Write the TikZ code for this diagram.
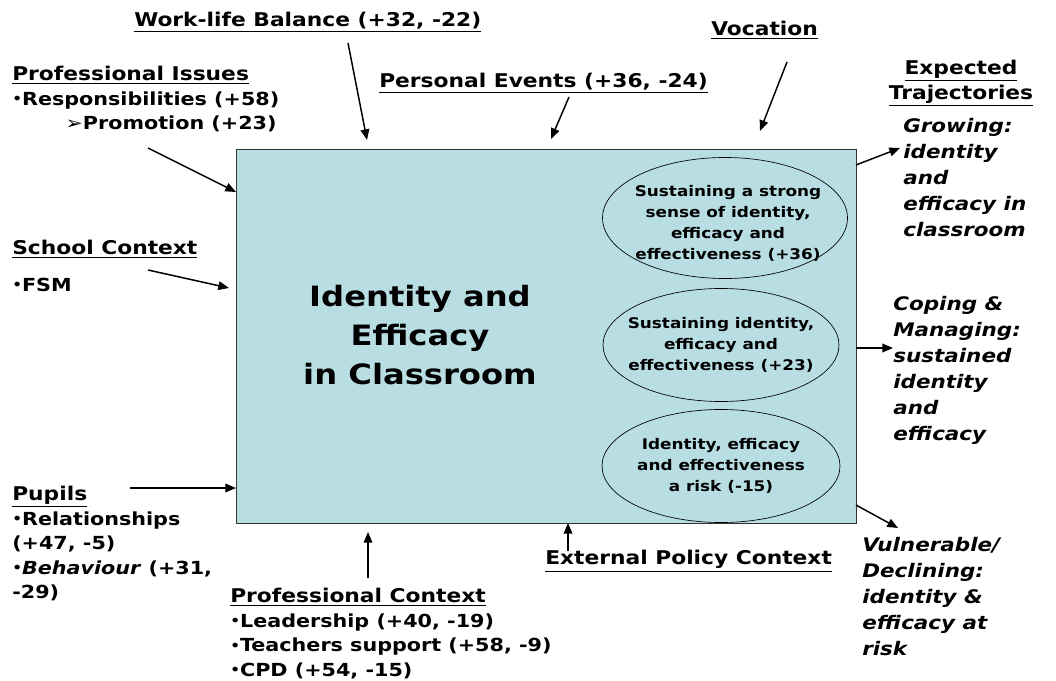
\documentclass[tikz,border=0pt]{standalone}
\usepackage{fontspec}
\setmainfont{DejaVu Sans}[FakeStretch=1.15]
\usetikzlibrary{shapes.geometric,arrows.meta,positioning}
\definecolor{coreblue}{RGB}{184,222,227}
\newcommand{\headline}[1]{{\fontsize{14.2}{18.4}\selectfont\underline{#1}}}
\newcommand{\dotitem}{\raisebox{1.2pt}{\fontsize{10}{10}\selectfont•}}

\begin{document}
\begin{tikzpicture}[x=0.75pt,y=-0.75pt,
  factor/.style={inner sep=0pt, align=left, font=\fontsize{13.5}{18.4}\selectfont\bfseries},
  trajectory/.style={inner sep=0pt, align=left, font=\fontsize{14}{19.5}\selectfont\bfseries\itshape},
  stage/.style={ellipse, draw, line width=0.5pt, inner sep=0pt},
  stagetext/.style={inner sep=0pt, align=center, font=\fontsize{11}{15.8}\selectfont\bfseries},
  arr/.style={-{Triangle[length=8pt,width=6.5pt]}, line width=1.1pt}]

\useasboundingbox (0,0) rectangle (1056,681);

% central box
\node[rectangle, draw=black!80, line width=0.6pt, fill=coreblue, minimum width=465pt, minimum height=280.5pt] (core) at (546,336) {};

\node[align=center, inner sep=0pt, font=\fontsize{21}{29}\selectfont\bfseries] (title) at (420,335) {Identity and\\Efficacy\\in Classroom};

% the three ellipses
\node[stage, minimum width=183.75pt, minimum height=90.75pt] (strong) at (725,218) {};
\node[stage, minimum width=177pt, minimum height=84.75pt] (sustain) at (721,345) {};
\node[stage, minimum width=178.5pt, minimum height=84.75pt] (risk) at (721,466) {};
\node[stagetext] (strong-txt) at (728,223) {Sustaining a strong\\sense of identity,\\efficacy and\\effectiveness (+36)};
\node[stagetext] (sustain-txt) at (sustain) {Sustaining identity,\\efficacy and\\effectiveness (+23)};
\node[stagetext] (risk-txt) at (risk) {Identity, efficacy\\and effectiveness\\a risk (-15)};

% influences
\node[factor, anchor=west] (balance) at (134,22) {\headline{Work-life Balance (+32, -22)}};
\node[factor, anchor=north west] (issues) at (12,66) {\headline{Professional Issues}\\\dotitem Responsibilities (+58)\\\hspace*{40pt}➢Promotion (+23)};
\node[factor, anchor=west] (events) at (379,83) {\headline{Personal Events (+36, -24)}};
\node[factor, anchor=west] (vocation) at (711,30) {\headline{Vocation}};
\node[factor, anchor=north west] (school) at (12,240) {\headline{School Context}\\[9pt]\dotitem FSM};
\node[factor, anchor=north west] (pupils) at (12,486) {\headline{Pupils}\\\dotitem Relationships\\(+47, -5)\\\dotitem\textit{Behaviour} (+31,\\-29)};
\node[factor, anchor=north west] (profctx) at (230,588) {\headline{Professional Context}\\\dotitem Leadership (+40, -19)\\\dotitem Teachers support (+58, -9)\\\dotitem CPD (+54, -15)};
\node[factor, anchor=west] (policy) at (545,561) {\headline{External Policy Context}};

% trajectories
\node[factor, align=center] (expected) at (961,83) {\headline{Expected}\\\headline{Trajectories}};
\node[trajectory, anchor=north west] (growing) at (903,118) {Growing:\\identity\\and\\efficacy in\\classroom};
\node[trajectory, anchor=north west] (coping) at (893,296) {Coping \&\\Managing:\\sustained\\identity\\and\\efficacy};
\node[trajectory, anchor=north west] (vulnerable) at (862,537) {Vulnerable/\\Declining:\\identity \&\\efficacy at\\risk};

% arrow ends
\coordinate (balance-s) at (348,43);   \coordinate (balance-e) at (367,140);
\coordinate (events-s) at (569,97);    \coordinate (events-e) at (551,139);
\coordinate (vocation-s) at (787,62);  \coordinate (vocation-e) at (760,131);
\coordinate (issues-s) at (148,148);   \coordinate (issues-e) at (236,192);
\coordinate (school-s) at (148,270);   \coordinate (school-e) at (229,288);
\coordinate (pupils-s) at (130,488);   \coordinate (pupils-e) at (236,488);
\coordinate (profctx-s) at (368,578);  \coordinate (profctx-e) at (368,532);
\coordinate (policy-s) at (568,551);   \coordinate (policy-e) at (568,523);
\coordinate (growing-s) at (856,165);  \coordinate (growing-e) at (900,148);
\coordinate (coping-s) at (856,348);   \coordinate (coping-e) at (893,348);
\coordinate (vulnerable-s) at (856,505); \coordinate (vulnerable-e) at (898,528);

\draw[arr] (balance-s) -- (balance-e);
\draw[arr] (events-s) -- (events-e);
\draw[arr] (vocation-s) -- (vocation-e);
\draw[arr] (issues-s) -- (issues-e);
\draw[arr] (school-s) -- (school-e);
\draw[arr] (pupils-s) -- (pupils-e);
\draw[arr] (profctx-s) -- (profctx-e);
\draw[arr] (policy-s) -- (policy-e);
\draw[arr] (growing-s) -- (growing-e);
\draw[arr] (coping-s) -- (coping-e);
\draw[arr] (vulnerable-s) -- (vulnerable-e);

\end{tikzpicture}
\end{document}
